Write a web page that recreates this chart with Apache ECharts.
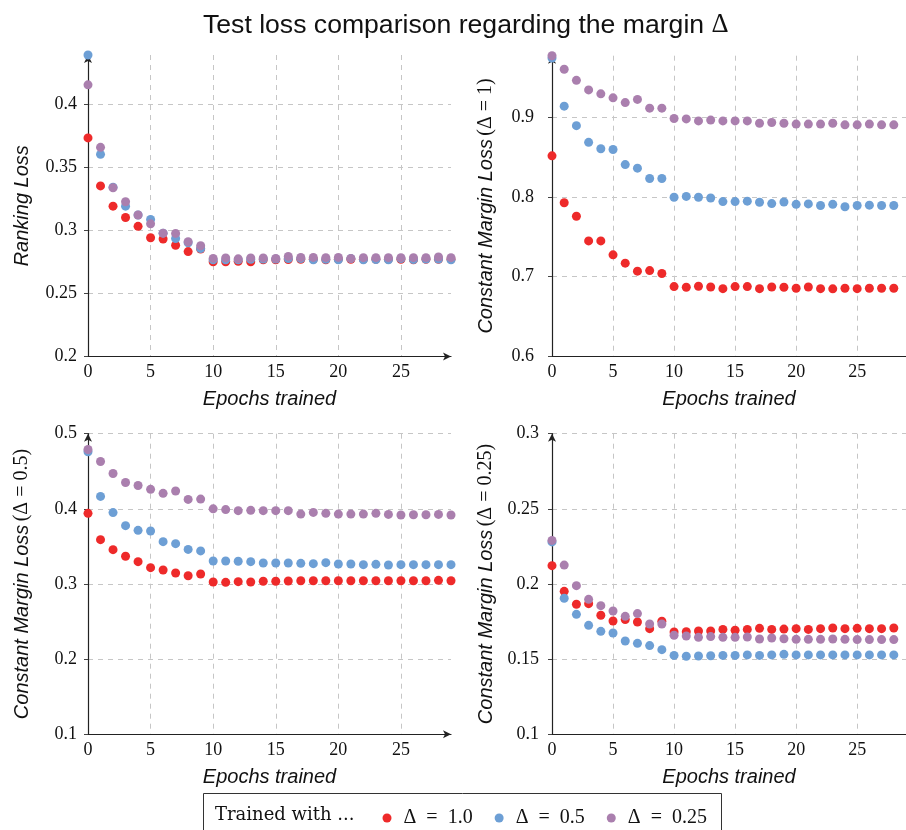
<!DOCTYPE html>
<html>
<head>
<meta charset="utf-8">
<script src="https://cdn.jsdelivr.net/npm/echarts@6/dist/echarts.min.js"></script>
<style>
  html, body { margin: 0; padding: 0; background: #fff; }
  #chart { width: 906px; height: 830px; }
</style>
</head>
<body>
<div id="chart"></div>
<script>
// Epochs on the x axis
const EPOCHS = [0, 1, 2, 3, 4, 5, 6, 7, 8, 9, 10, 11, 12, 13, 14, 15, 16, 17, 18, 19, 20, 21, 22, 23, 24, 25, 26, 27, 28, 29];
const X_TICKS = [0, 5, 10, 15, 20, 25];

// Series names (margin used while training)
const NAMES = ['Δ\u2002=\u20021.0', 'Δ\u2002=\u20020.5', 'Δ\u2002=\u20020.25'];
const COLORS = ['#ee2a2a', '#6d9fd5', '#aa7fae'];

// Panel 1: ranking loss
const RANK_D100 = [0.373, 0.335, 0.319, 0.310, 0.303, 0.294, 0.293, 0.288, 0.283, 0.285, 0.275, 0.275, 0.2753, 0.275, 0.2765, 0.2765, 0.2768, 0.277, 0.277, 0.2765, 0.277, 0.277, 0.277, 0.277, 0.277, 0.277, 0.2765, 0.277, 0.277, 0.277];
const RANK_D050 = [0.4386, 0.360, 0.334, 0.319, 0.312, 0.3085, 0.2976, 0.2934, 0.290, 0.2855, 0.2765, 0.2765, 0.2765, 0.277, 0.2772, 0.2772, 0.2775, 0.2775, 0.2765, 0.277, 0.2765, 0.2775, 0.2765, 0.2768, 0.2765, 0.2775, 0.2768, 0.2772, 0.2772, 0.2765];
const RANK_D025 = [0.415, 0.3655, 0.3335, 0.3225, 0.312, 0.305, 0.2976, 0.2974, 0.2908, 0.2876, 0.2776, 0.278, 0.2773, 0.278, 0.278, 0.2776, 0.2792, 0.2784, 0.2784, 0.2782, 0.2784, 0.2776, 0.2782, 0.2782, 0.2782, 0.2782, 0.2782, 0.2782, 0.2787, 0.2782];
const RANK_TICKS = [0.2, 0.25, 0.3, 0.35, 0.4];

// Panel 2: constant margin loss, Δ = 1
const CM1_D100 = [0.852, 0.793, 0.776, 0.745, 0.745, 0.7275, 0.717, 0.707, 0.7077, 0.704, 0.6876, 0.6868, 0.688, 0.687, 0.685, 0.6876, 0.6876, 0.685, 0.687, 0.6868, 0.6855, 0.687, 0.685, 0.6847, 0.6855, 0.685, 0.6855, 0.6855, 0.6855];
const CM1_D050 = [0.975, 0.9145, 0.890, 0.869, 0.861, 0.860, 0.841, 0.8365, 0.8235, 0.8235, 0.800, 0.801, 0.800, 0.799, 0.7945, 0.7945, 0.795, 0.7937, 0.792, 0.794, 0.791, 0.7916, 0.7895, 0.791, 0.788, 0.7895, 0.790, 0.7895, 0.7895];
const CM1_D025 = [0.978, 0.961, 0.947, 0.935, 0.930, 0.925, 0.919, 0.923, 0.912, 0.912, 0.899, 0.8985, 0.896, 0.897, 0.896, 0.896, 0.896, 0.893, 0.894, 0.893, 0.892, 0.892, 0.892, 0.893, 0.891, 0.891, 0.892, 0.891, 0.891];
const CM1_TICKS = [0.6, 0.7, 0.8, 0.9];

// Panel 3: constant margin loss, Δ = 0.5
const CM05_D100 = [0.394, 0.359, 0.3457, 0.337, 0.3297, 0.3217, 0.3186, 0.3146, 0.311, 0.3133, 0.3027, 0.3022, 0.3031, 0.3027, 0.3036, 0.3036, 0.304, 0.3044, 0.3044, 0.3044, 0.3044, 0.3044, 0.3044, 0.3044, 0.3044, 0.3044, 0.3044, 0.3044, 0.3049, 0.3044];
const CM05_D050 = [0.476, 0.4166, 0.395, 0.3776, 0.3714, 0.3705, 0.3563, 0.3537, 0.346, 0.344, 0.3306, 0.3306, 0.3302, 0.3297, 0.328, 0.328, 0.328, 0.3275, 0.3271, 0.3284, 0.3266, 0.3266, 0.3257, 0.3262, 0.3253, 0.3257, 0.3257, 0.3257, 0.3257, 0.3257];
const CM05_D025 = [0.479, 0.463, 0.447, 0.435, 0.431, 0.426, 0.4206, 0.4237, 0.4126, 0.413, 0.400, 0.399, 0.3976, 0.398, 0.3976, 0.3976, 0.3976, 0.393, 0.3953, 0.394, 0.393, 0.393, 0.393, 0.394, 0.3926, 0.3918, 0.3922, 0.3922, 0.3926, 0.3918];
const CM05_TICKS = [0.1, 0.2, 0.3, 0.4, 0.5];

// Panel 4: constant margin loss, Δ = 0.25
const CM025_D100 = [0.2122, 0.1951, 0.1865, 0.1869, 0.1792, 0.1754, 0.1763, 0.1747, 0.1703, 0.1752, 0.1681, 0.1683, 0.1687, 0.1687, 0.1698, 0.1692, 0.1698, 0.1705, 0.1698, 0.17, 0.1703, 0.1698, 0.1703, 0.1707, 0.1703, 0.1705, 0.1703, 0.1703, 0.1707];
const CM025_D050 = [0.228, 0.1905, 0.1798, 0.1725, 0.1685, 0.1674, 0.1621, 0.1605, 0.159, 0.1563, 0.1525, 0.1519, 0.1521, 0.1523, 0.1525, 0.1525, 0.1528, 0.1525, 0.1528, 0.1532, 0.1528, 0.1528, 0.1528, 0.1528, 0.1528, 0.1528, 0.1528, 0.1528, 0.1528];
const CM025_D025 = [0.229, 0.2126, 0.1989, 0.1898, 0.1856, 0.182, 0.1785, 0.1803, 0.1734, 0.1734, 0.1659, 0.1654, 0.1645, 0.165, 0.1645, 0.1645, 0.1647, 0.1634, 0.1641, 0.1636, 0.1632, 0.1632, 0.1632, 0.1634, 0.1632, 0.163, 0.163, 0.163, 0.163];
const CM025_TICKS = [0.1, 0.15, 0.2, 0.25, 0.3];

const SERIF = 'Liberation Serif';
const SANS = 'Liberation Sans';

const panels = [
  { grid: { left: 88, top: 55, width: 363, height: 301.5 }, min: 0.2, max: 0.4386, ticks: RANK_TICKS,
    name: '{a|Ranking Loss}', labelMargin: 11, xArrow: true, series: [RANK_D100, RANK_D050, RANK_D025] },
  { grid: { left: 552, top: 55.7, width: 363, height: 300.5 }, min: 0.6, max: 0.978, ticks: CM1_TICKS,
    name: '{a|Constant Margin Loss} {b|(Δ = 1)}', labelMargin: 18, xArrow: false, series: [CM1_D100, CM1_D050, CM1_D025] },
  { grid: { left: 88, top: 433.7, width: 363, height: 300.6 }, min: 0.1, max: 0.5, ticks: CM05_TICKS,
    name: '{a|Constant Margin Loss} {b|(Δ = 0.5)}', labelMargin: 11, xArrow: true, series: [CM05_D100, CM05_D050, CM05_D025] },
  { grid: { left: 552, top: 433.7, width: 363, height: 300.6 }, min: 0.1, max: 0.3, ticks: CM025_TICKS,
    name: '{a|Constant Margin Loss} {b|(Δ = 0.25)}', labelMargin: 13, xArrow: false, series: [CM025_D100, CM025_D050, CM025_D025] }
];

const nameRich = {
  a: { fontFamily: SANS, fontStyle: 'italic', fontSize: 20, color: '#111' },
  b: { fontFamily: SERIF, fontSize: 20, color: '#111' }
};
const dashed = { show: true, lineStyle: { color: '#c6c6c6', type: [5, 5], width: 1 } };
function axisLine(arrow) {
  return { show: true, onZero: false, symbol: ['none', arrow ? 'arrow' : 'none'], symbolSize: [6, 8],
    lineStyle: { color: '#222', width: 1.2 } };
}

const grids = [], xAxes = [], yAxes = [], series = [];
panels.forEach((p, k) => {
  grids.push(Object.assign({ containLabel: false }, p.grid));
  xAxes.push({
    type: 'value', gridIndex: k, min: 0, max: 29,
    name: 'Epochs trained', nameLocation: 'middle', nameGap: 33,
    nameTextStyle: { fontFamily: SANS, fontStyle: 'italic', fontSize: 20, color: '#111' },
    axisLine: axisLine(p.xArrow),
    axisTick: { show: false, customValues: X_TICKS },
    axisLabel: { customValues: X_TICKS, margin: 7, fontFamily: SERIF, fontSize: 18, color: '#111' },
    splitLine: dashed
  });
  yAxes.push({
    type: 'value', gridIndex: k, min: p.min, max: p.max,
    name: p.name, nameLocation: 'middle', nameGap: 56, nameRotate: 90,
    nameTextStyle: { rich: nameRich },
    axisLine: axisLine(true),
    axisTick: { show: true, length: 4, customValues: p.ticks, lineStyle: { color: '#444' } },
    axisLabel: { customValues: p.ticks, margin: p.labelMargin, fontFamily: SERIF, fontSize: 18, color: '#111' },
    splitLine: dashed
  });
  p.series.forEach((vals, s) => {
    series.push({
      type: 'scatter', name: NAMES[s], xAxisIndex: k, yAxisIndex: k,
      symbol: 'circle', symbolSize: 9, clip: false,
      itemStyle: { color: COLORS[s], opacity: 1 },
      emphasis: { disabled: true },
      data: vals.map((v, i) => [EPOCHS[i], v])
    });
  });
});

const chart = echarts.init(document.getElementById('chart'), null, { renderer: 'canvas' });
chart.setOption({
  animation: false,
  backgroundColor: '#fff',
  title: {
    text: '{a|Test loss comparison regarding the margin }{b|Δ}',
    left: 198, top: 7,
    textStyle: { fontWeight: 'normal', rich: {
      a: { fontFamily: SANS, fontSize: 26.6, fontWeight: 'normal', color: '#111' },
      b: { fontFamily: SERIF, fontSize: 26.6, fontWeight: 'normal', color: '#111' }
    } }
  },
  legend: {
    data: NAMES, left: 382.5, top: 808, padding: 0,
    icon: 'circle', itemWidth: 9, itemHeight: 9, itemGap: 22,
    selectedMode: false,
    textStyle: { fontFamily: SERIF, fontSize: 20, color: '#111', padding: [0, 0, 0, 7] }
  },
  graphic: [
    { type: 'rect', z: -1, shape: { x: 203.5, y: 793.5, width: 518, height: 50 },
      style: { fill: '#fff', stroke: '#333', lineWidth: 1 } },
    { type: 'text', left: 215, top: 806,
      style: { text: 'Trained with ...', font: '18px "DejaVu Serif"', fill: '#111' } }
  ],
  grid: grids,
  xAxis: xAxes,
  yAxis: yAxes,
  series: series
});
</script>
</body>
</html>
